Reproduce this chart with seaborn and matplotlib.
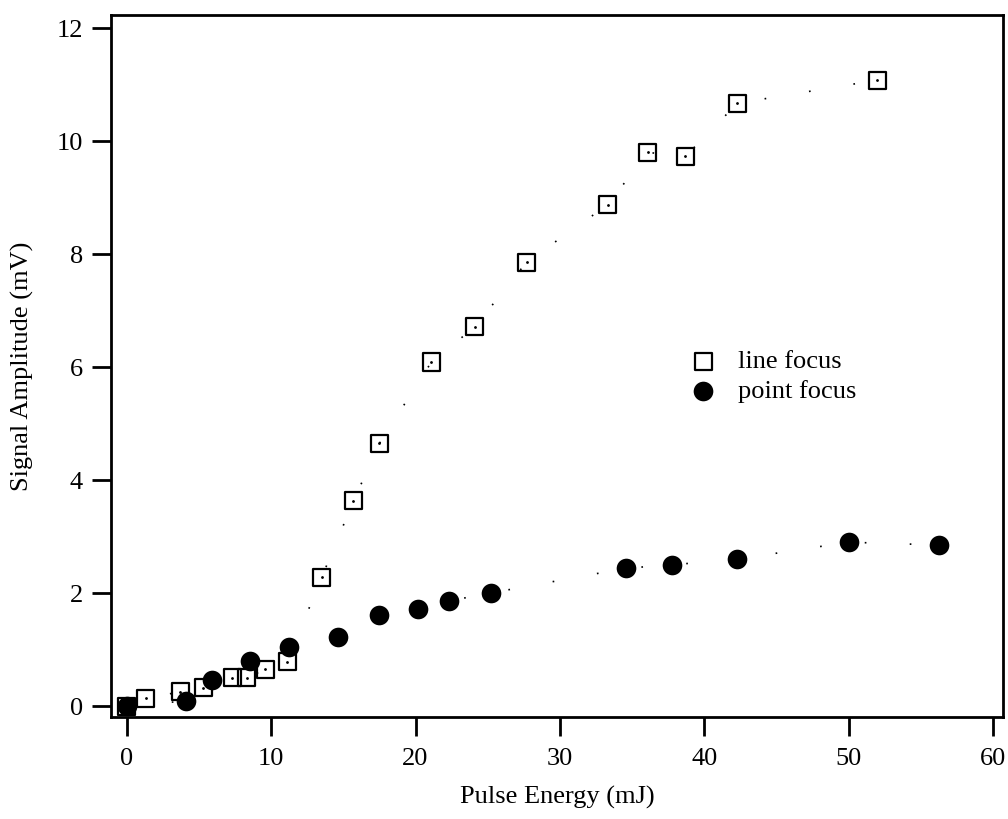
import matplotlib
matplotlib.use("Agg")
import matplotlib.pyplot as plt
import seaborn as sns
import pandas as pd

# Line-focus measurements
line_energy = [0.0, 1.3, 3.7, 5.3, 7.3, 8.3, 9.6, 11.1, 13.5, 15.7, 17.5, 21.1,
               24.1, 27.7, 33.3, 36.1, 38.7, 42.3, 52.0]
line_signal = [0.0, 0.14, 0.25, 0.32, 0.5, 0.5, 0.65, 0.78, 2.28, 3.63, 4.65, 6.09,
               6.71, 7.86, 8.87, 9.8, 9.73, 10.67, 11.08]

# Point-focus measurements
point_energy = [0.0, 4.1, 5.9, 8.5, 11.2, 14.6, 17.5, 20.2, 22.3, 25.2, 34.6,
                37.8, 42.3, 50.0, 56.3]
point_signal = [0.0, 0.09, 0.46, 0.8, 1.04, 1.22, 1.61, 1.72, 1.86, 2.0, 2.44,
                2.5, 2.6, 2.9, 2.85]

x_ticks = [0, 10, 20, 30, 40, 50, 60]
y_ticks = [0, 2, 4, 6, 8, 10, 12]

line_df = pd.DataFrame({"energy": line_energy, "signal": line_signal})
point_df = pd.DataFrame({"energy": point_energy, "signal": point_signal})

sns.set_theme(style="white")
plt.rcParams["font.family"] = ["Liberation Serif", "DejaVu Serif"]
plt.rcParams["axes.linewidth"] = 2.0
plt.rcParams["text.color"] = "black"
plt.rcParams["axes.labelcolor"] = "black"
plt.rcParams["xtick.color"] = "black"
plt.rcParams["ytick.color"] = "black"

FS = 19

fig = plt.figure(figsize=(10.08, 8.19), dpi=100)
ax = fig.add_axes([0.110, 0.1245, 0.885, 0.857])

# sparse dotted guide curves
sns.lineplot(data=line_df, x="energy", y="signal", ax=ax, color="black",
             lw=1.2, linestyle=(0, (1, 26)), sort=True, estimator=None)
sns.lineplot(data=point_df, x="energy", y="signal", ax=ax, color="black",
             lw=1.2, linestyle=(0, (1, 26)), sort=True, estimator=None)

sns.scatterplot(data=point_df, x="energy", y="signal", ax=ax, marker="o",
                s=200, color="black", edgecolor="black", linewidth=0,
                label="point focus", zorder=3)
sns.scatterplot(data=line_df, x="energy", y="signal", ax=ax, marker="s",
                s=150, facecolor="none", edgecolor="black", linewidth=1.6,
                label="line focus", zorder=4)
# centre dot of the square markers
ax.scatter(line_energy, line_signal, marker=".", s=4, color="black", zorder=5)

ax.set_xlim(-1.11, 60.7)
ax.set_ylim(-0.195, 12.23)
ax.set_xticks(x_ticks)
ax.set_yticks(y_ticks)
ax.tick_params(axis="x", direction="out", length=14, width=2.0,
               labelsize=FS, pad=8, bottom=True)
ax.tick_params(axis="y", direction="out", length=14, width=2.0,
               labelsize=FS, pad=6, left=True)
for s in ax.spines.values():
    s.set_color("black")
    s.set_linewidth(2.0)

ax.set_xlabel("Pulse Energy (mJ)", fontsize=FS, labelpad=12)
ax.set_ylabel("Signal Amplitude (mV)", fontsize=FS, labelpad=16)

handles, labels = ax.get_legend_handles_labels()
order = [labels.index("line focus"), labels.index("point focus")]
ax.legend([handles[i] for i in order], [labels[i] for i in order],
          loc="center left", bbox_to_anchor=(0.608, 0.485), frameon=False,
          fontsize=FS, handletextpad=0.3, labelspacing=0.25)

fig.savefig("out.png", dpi=100)
